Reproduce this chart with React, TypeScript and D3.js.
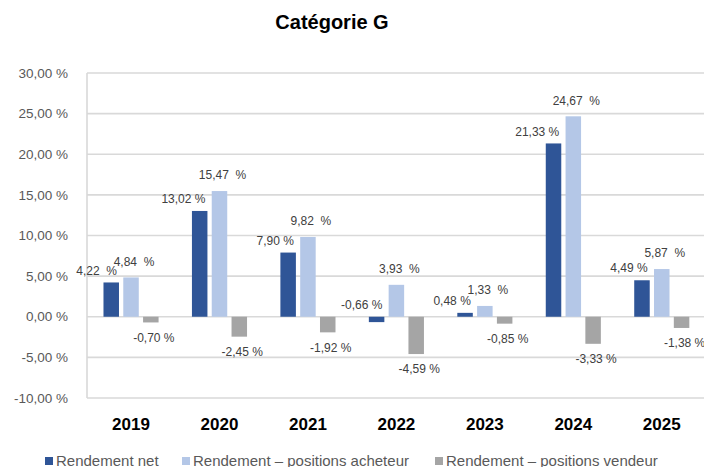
import React from "react";
import * as d3 from "d3";

const years = ["2019", "2020", "2021", "2022", "2023", "2024", "2025"];
const seriesNames = [
  "Rendement net",
  "Rendement – positions acheteur",
  "Rendement – positions vendeur",
];
const netValues = [4.22, 13.02, 7.9, -0.66, 0.48, 21.33, 4.49];
const longValues = [4.84, 15.47, 9.82, 3.93, 1.33, 24.67, 5.87];
const shortValues = [-0.7, -2.45, -1.92, -4.59, -0.85, -3.33, -1.38];
const yTicks = [-10, -5, 0, 5, 10, 15, 20, 25, 30];
const colors = ["#2F5597", "#B4C7E7", "#A5A5A5"];

const W = 704;
const H = 467;
const fmt = (v: number) => v.toFixed(2).replace(".", ",");

export default function App() {
  const x = d3.scaleBand<string>().domain(years).range([86.8, 706]).padding(0);
  const y = d3.scaleLinear().domain([-10, 30]).range([398, 73]);
  const series = [netValues, longValues, shortValues];
  const barW = 15.5;
  const step = 19.8;
  const font = "'Liberation Sans', Arial, sans-serif";

  return (
    <svg
      width={W}
      height={H}
      style={{ position: "absolute", left: 0, top: 0, display: "block", background: "#fff" }}
      fontFamily={font}
    >
      <text x={332} y={29} textAnchor="middle" fontWeight="bold" fontSize={20} fill="#000">
        Catégorie G
      </text>
      {yTicks.map((t) => (
        <g key={t}>
          <line x1={87} x2={706} y1={y(t)} y2={y(t)} stroke="#d9d9d9" strokeWidth={1.6} />
          <text x={68} y={y(t)} dy="0.35em" textAnchor="end" fontSize={13.5} fill="#595959">
            {fmt(t) + " %"}
          </text>
        </g>
      ))}
      <line x1={87} x2={87} y1={73} y2={398} stroke="#d9d9d9" strokeWidth={1.6} />
      {years.map((yr, i) => {
        const cx = (x(yr) as number) + x.bandwidth() / 2;
        return (
          <g key={yr}>
            {series.map((vals, j) => {
              const v = vals[i];
              const bx = cx + (j - 1) * step - barW / 2;
              const y0 = y(0);
              const yv = y(v);
              return (
                <rect
                  key={j}
                  x={bx}
                  y={Math.min(y0, yv)}
                  width={barW}
                  height={Math.abs(yv - y0)}
                  fill={colors[j]}
                />
              );
            })}
            <text
              x={cx - step + barW / 2 - 2}
              y={Math.min(y(netValues[i]), y(0)) - 12}
              dy="0.35em"
              textAnchor="end"
              fontSize={12}
              fill="#404040"
              style={{ whiteSpace: "pre" }}
            >
              {fmt(netValues[i]) + (i === 0 ? "  %" : " %")}
            </text>
            <text
              x={cx + 3}
              y={y(longValues[i]) - 16}
              dy="0.35em"
              textAnchor="middle"
              fontSize={12}
              fill="#404040"
              style={{ whiteSpace: "pre" }}
            >
              {fmt(longValues[i]) + "  %"}
            </text>
            <text
              x={cx + step + 3}
              y={y(shortValues[i]) + 15}
              dy="0.35em"
              textAnchor="middle"
              fontSize={12}
              fill="#404040"
            >
              {fmt(shortValues[i]) + " %"}
            </text>
            <text x={cx} y={424} dy="0.35em" textAnchor="middle" fontWeight="bold" fontSize={17} fill="#000">
              {yr}
            </text>
          </g>
        );
      })}
      {seriesNames.map((name, j) => {
        const lx = [45, 182, 435][j];
        return (
          <g key={name}>
            <rect x={lx} y={457} width={8} height={8} fill={colors[j]} />
            <text x={lx + 11} y={461} dy="0.35em" fontSize={15} fill="#595959">
              {name}
            </text>
          </g>
        );
      })}
    </svg>
  );
}
